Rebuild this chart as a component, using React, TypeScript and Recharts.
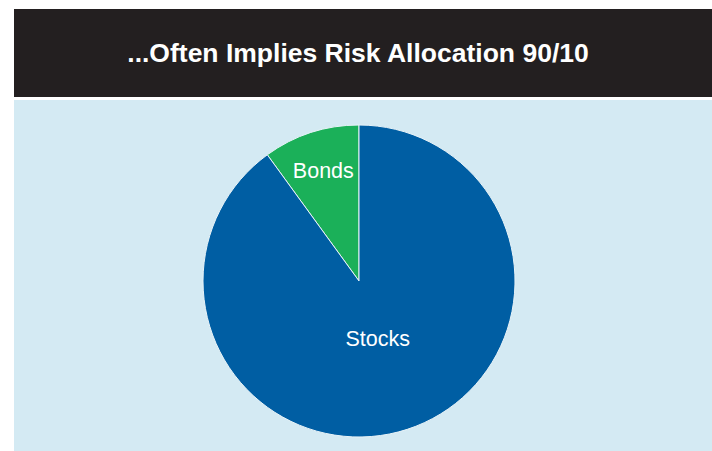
import React from 'react'
import { PieChart, Pie, Cell } from 'recharts'

const categories = ['Bonds', 'Stocks']
const weights = [10, 90]
const sliceColors = ['#1bb059', '#005ea3']

const data = categories.map((name, i) => ({ name, value: weights[i] }))

// how far from the centre each label sits, as a share of the radius
const LABEL_DEPTH: Record<string, number> = { Bonds: 0.74, Stocks: 0.39 }

const RADIAN = Math.PI / 180

const renderLabel = ({ cx, cy, midAngle, outerRadius, name }: any) => {
  const r = outerRadius * (LABEL_DEPTH[name] ?? 0.5)
  const x = cx + r * Math.cos(-midAngle * RADIAN)
  const y = cy + r * Math.sin(-midAngle * RADIAN)
  return (
    <text
      x={x}
      y={y}
      fill="#ffffff"
      textAnchor="middle"
      dominantBaseline="central"
      fontFamily="'Liberation Sans', Arial, sans-serif"
      fontSize={21.5}
    >
      {name}
    </text>
  )
}

export default function App() {
  return (
    <div
      style={{
        position: 'fixed',
        left: 0,
        top: 0,
        width: 712,
        height: 451,
        overflow: 'hidden',
        background: '#ffffff',
        fontFamily: "'Liberation Sans', Arial, sans-serif"
      }}
    >
      <div
        style={{
          position: 'absolute',
          left: 14,
          top: 9,
          width: 698,
          height: 88,
          background: '#231f20',
          color: '#ffffff',
          fontWeight: 700,
          fontSize: 26.5,
          display: 'flex',
          alignItems: 'center',
          justifyContent: 'center',
          paddingRight: 10,
          boxSizing: 'border-box'
        }}
      >
        ...Often Implies Risk Allocation 90/10
      </div>
      <div
        style={{
          position: 'absolute',
          left: 14,
          top: 100,
          width: 698,
          height: 351,
          background: '#d4eaf3'
        }}
      >
        <PieChart width={698} height={351} margin={{ top: 0, right: 0, bottom: 0, left: 0 }}>
          <Pie
            data={data}
            dataKey="value"
            nameKey="name"
            cx={345}
            cy={181}
            outerRadius={156}
            startAngle={90}
            endAngle={450}
            stroke="#e8f3f8"
            strokeWidth={1}
            label={renderLabel}
            labelLine={false}
            isAnimationActive={false}
          >
            {data.map((_, i) => (
              <Cell key={`cell-${i}`} fill={sliceColors[i]} />
            ))}
          </Pie>
        </PieChart>
      </div>
    </div>
  )
}
